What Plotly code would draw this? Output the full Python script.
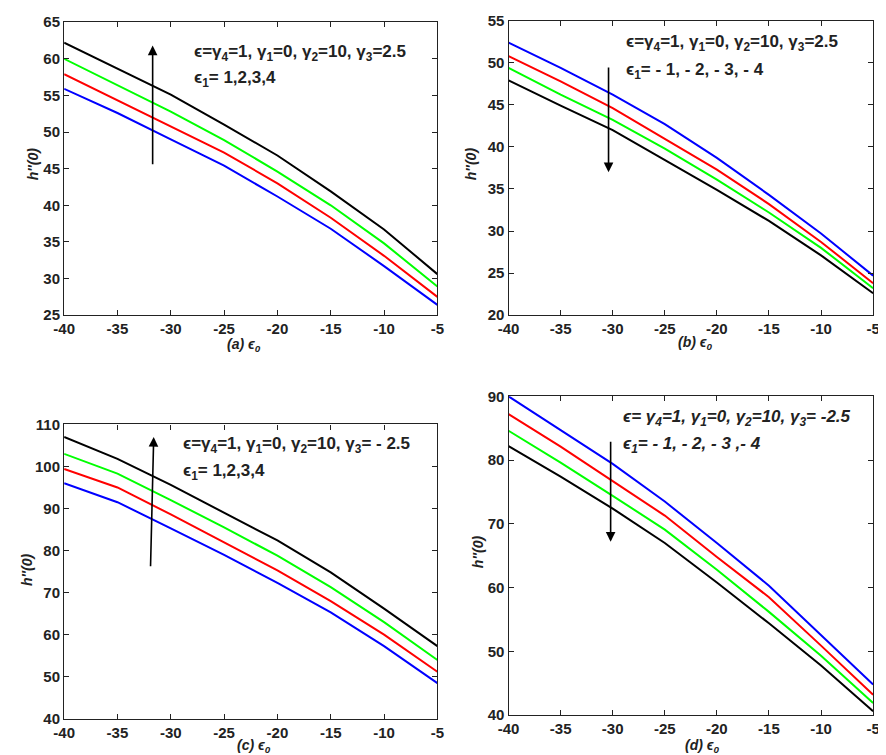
import plotly.graph_objects as go

# epsilon_0 values on the x axis
eps0 = [-40, -35, -30, -25, -20, -15, -10, -5]
x_ticks = [-40, -35, -30, -25, -20, -15, -10, -5]
x_ticklabels = ["-40", "-35", "-30", "-25", "-20", "-15", "-10", "-5"]

# (a) gamma_3 = 2.5, eps_1 = 1..4
a_blue = [55.9, 52.6, 49.0, 45.4, 41.2, 36.8, 31.7, 26.4]
a_red = [57.9, 54.3, 50.8, 47.2, 43.0, 38.3, 33.1, 27.5]
a_green = [60.0, 56.4, 52.8, 48.9, 44.6, 40.0, 34.8, 28.9]
a_black = [62.2, 58.6, 55.1, 51.0, 46.8, 41.9, 36.7, 30.6]

# (b) gamma_3 = 2.5, eps_1 = -1..-4
b_blue = [52.4, 49.4, 46.2, 42.7, 38.7, 34.3, 29.7, 24.7]
b_red = [50.8, 47.8, 44.6, 41.0, 37.3, 33.2, 28.7, 23.8]
b_green = [49.4, 46.2, 43.2, 39.8, 36.1, 32.2, 28.0, 23.2]
b_black = [47.9, 44.9, 42.0, 38.5, 34.9, 31.2, 27.1, 22.6]

# (c) gamma_3 = -2.5, eps_1 = 1..4
c_blue = [96.0, 91.5, 85.3, 79.0, 72.3, 65.3, 57.3, 48.5]
c_red = [99.4, 95.0, 88.6, 82.0, 75.3, 68.0, 60.0, 51.2]
c_green = [103.0, 98.3, 92.0, 85.5, 78.8, 71.3, 63.0, 54.0]
c_black = [107.0, 101.8, 95.6, 89.1, 82.4, 74.8, 66.2, 57.3]

# (d) gamma_3 = -2.5, eps_1 = -1..-4
d_blue = [90.0, 84.7, 79.4, 73.5, 67.0, 60.3, 52.6, 44.8]
d_red = [87.2, 82.1, 76.7, 71.3, 64.8, 58.5, 50.9, 43.2]
d_green = [84.6, 79.6, 74.4, 69.1, 62.8, 56.2, 49.3, 41.9]
d_black = [82.2, 77.4, 72.4, 67.0, 60.8, 54.4, 47.8, 40.6]

colors = ["blue", "red", "#00ff00", "black"]
panels = [
    ("x", "y", [a_blue, a_red, a_green, a_black]),
    ("x2", "y2", [b_blue, b_red, b_green, b_black]),
    ("x3", "y3", [c_blue, c_red, c_green, c_black]),
    ("x4", "y4", [d_blue, d_red, d_green, d_black]),
]

fig = go.Figure()
for xa, ya, series in panels:
    for s, c in zip(series, colors):
        fig.add_trace(go.Scatter(x=eps0, y=s, mode="lines", xaxis=xa, yaxis=ya,
                                 line=dict(color=c, width=2), showlegend=False))

FONT = "Liberation Sans"
tickfont = dict(family=FONT, size=15, color="#222", weight="bold")
ax_common = dict(showline=True, linecolor="#222", linewidth=1.3, mirror="ticks",
                 ticks="inside", ticklen=5, tickcolor="#222", showgrid=False,
                 zeroline=False, tickfont=tickfont)
x_common = dict(range=[-40, -5], tickvals=x_ticks, ticktext=x_ticklabels, **ax_common)

xdom_l, xdom_r = [0.052, 0.482], [0.564, 0.984]
fig.update_layout(
    xaxis=dict(domain=xdom_l, anchor="y", **x_common),
    yaxis=dict(domain=[0.596, 0.993], range=[25, 65], dtick=5, anchor="x", **ax_common),
    xaxis2=dict(domain=xdom_r, anchor="y2", **x_common),
    yaxis2=dict(domain=[0.596, 0.995], range=[20, 55], dtick=5, anchor="x2", **ax_common),
    xaxis3=dict(domain=xdom_l, anchor="y3", **x_common),
    yaxis3=dict(domain=[0.049, 0.448], range=[40, 110], dtick=10, anchor="x3", **ax_common),
    xaxis4=dict(domain=xdom_r, anchor="y4", **x_common),
    yaxis4=dict(domain=[0.054, 0.486], range=[40, 90], dtick=10, anchor="x4", **ax_common),
    width=886, height=755,
    margin=dict(l=0, r=0, t=0, b=0),
    plot_bgcolor="white", paper_bgcolor="white",
)

txt = dict(family=FONT, size=17, color="#222", weight="bold")
notes = [
    ("x", "y", -28.0, 60.8, 57.2,
     "ϵ=γ<sub>4</sub>=1, γ<sub>1</sub>=0, γ<sub>2</sub>=10, γ<sub>3</sub>=2.5",
     "ϵ<sub>1</sub>= 1,2,3,4"),
    ("x2", "y2", -28.9, 52.3, 49.0,
     "ϵ=γ<sub>4</sub>=1, γ<sub>1</sub>=0, γ<sub>2</sub>=10, γ<sub>3</sub>=2.5",
     "ϵ<sub>1</sub>= - 1, - 2, - 3, - 4"),
    ("x3", "y3", -29.0, 105.0, 98.6,
     "ϵ=γ<sub>4</sub>=1, γ<sub>1</sub>=0, γ<sub>2</sub>=10, γ<sub>3</sub>= - 2.5",
     "ϵ<sub>1</sub>= 1,2,3,4"),
    ("x4", "y4", -29.2, 86.6, 82.4,
     "<i>ϵ= γ<sub>4</sub>=1, γ<sub>1</sub>=0, γ<sub>2</sub>=10, γ<sub>3</sub>= -2.5</i>",
     "<i>ϵ<sub>1</sub>= - 1, - 2, - 3 ,- 4</i>"),
]
for xa, ya, x0, y1, y2, l1, l2 in notes:
    for yy, t in ((y1, l1), (y2, l2)):
        fig.add_annotation(x=x0, y=yy, xref=xa, yref=ya, text=t, showarrow=False,
                           xanchor="left", yanchor="middle", font=txt)

# arrows (tail -> head)
arrows = [
    ("x", "y", -31.7, 45.4, -31.7, 61.8),
    ("x2", "y2", -30.4, 49.6, -30.4, 37.0),
    ("x3", "y3", -31.9, 75.9, -31.6, 107.0),
    ("x4", "y4", -30.2, 83.1, -30.2, 67.2),
]
for xa, ya, tx, ty, hx, hy in arrows:
    fig.add_annotation(x=hx, y=hy, ax=tx, ay=ty, xref=xa, yref=ya, axref=xa, ayref=ya,
                       text="", showarrow=True, arrowhead=2, arrowsize=1.2,
                       arrowwidth=1.6, arrowcolor="black")

# axis titles
tfont = dict(family=FONT, size=14, color="#222", weight="bold", style="italic")
xtitles = [(230, 336, "(a) ϵ<sub>0</sub>"), (690, 334, "(b) ϵ<sub>0</sub>"),
           (240, 746, "(c) ϵ<sub>0</sub>"), (697, 746, "(d) ϵ<sub>0</sub>")]
for px, py, t in xtitles:
    fig.add_annotation(x=px / 886, y=1 - py / 755, xref="paper", yref="paper", text=t,
                       showarrow=False, font=tfont, xanchor="center", yanchor="middle")
ytitles = [(14, 150), (461, 150), (8, 565), (468, 547)]
for px, py in ytitles:
    fig.add_annotation(x=px / 886, y=1 - py / 755, xref="paper", yref="paper", text="h''(0)",
                       textangle=-90, showarrow=False, font=tfont,
                       xanchor="center", yanchor="middle")

fig.write_html("out.html")
